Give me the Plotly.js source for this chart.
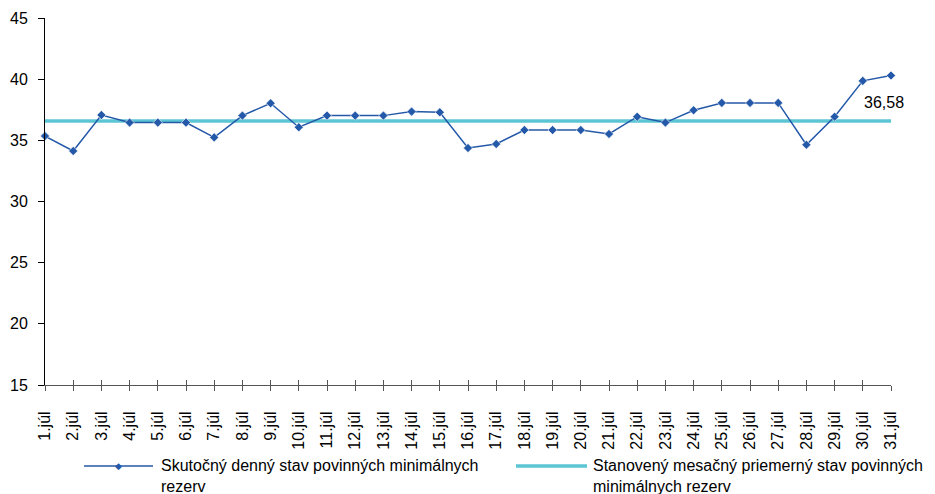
<!DOCTYPE html>
<html>
<head>
<meta charset="utf-8">
<script src="https://cdn.plot.ly/plotly-3.0.1.min.js"></script>
<style>html,body{margin:0;padding:0;background:#fff;}#chart{width:935px;height:494px;}</style>
</head>
<body>
<div id="chart"></div>
<script>
const days = ["1.júl","2.júl","3.júl","4.júl","5.júl","6.júl","7.júl","8.júl","9.júl","10.júl",
  "11.júl","12.júl","13.júl","14.júl","15.júl","16.júl","17.júl","18.júl","19.júl","20.júl",
  "21.júl","22.júl","23.júl","24.júl","25.júl","26.júl","27.júl","28.júl","29.júl","30.júl","31.júl"];
const actual = [35.35,34.13,37.07,36.45,36.45,36.45,35.24,37.02,38.03,36.07,
  37.02,37.02,37.02,37.35,37.29,34.37,34.70,35.84,35.84,35.84,
  35.52,36.93,36.45,37.46,38.06,38.06,38.06,34.64,36.93,39.86,40.30];
const required = 36.58;
const requiredLabel = "36,58";
const seriesNames = ["Skutočný denný stav povinných minimálnych<br>rezerv",
  "Stanovený mesačný priemerný stav povinných<br>minimálnych rezerv"];

const colActual = '#2458A8';
const colReq = '#5BC5D3';
const reqSeries = days.map(() => required);

const traces = [
  {x: days, y: reqSeries, type: 'scatter', mode: 'lines', name: seriesNames[1],
   line: {color: colReq, width: 3.5}, cliponaxis: false, hoverinfo: 'skip', showlegend: false},
  {x: days, y: actual, type: 'scatter', mode: 'lines+markers', name: seriesNames[0],
   line: {color: colActual, width: 1.5},
   marker: {symbol: 'diamond', size: 7, color: colActual, line: {color: '#ffffff', width: 0.6}},
   cliponaxis: false, showlegend: false},
  {x: days, y: actual, xaxis: 'x2', yaxis: 'y', type: 'scatter', mode: 'none',
   showlegend: false, hoverinfo: 'skip'}
];

// plot area in pixels: x 45..891, y 18..385
const L = 45, R = 891, T = 18, B = 385;
const px = v => (v - L) / (R - L);
const py = v => (B - v) / (B - T);

const legendY = 466;
const shapes = [
  {type: 'line', xref: 'paper', yref: 'paper', x0: px(84), x1: px(153), y0: py(legendY), y1: py(legendY),
   line: {color: colActual, width: 1.5}},
  {type: 'line', xref: 'paper', yref: 'paper', x0: px(516), x1: px(587), y0: py(legendY), y1: py(legendY),
   line: {color: colReq, width: 3.5}}
];

const layout = {
  width: 935, height: 494,
  margin: {l: L, r: 935 - R, t: T, b: 494 - B},
  paper_bgcolor: '#ffffff', plot_bgcolor: '#ffffff',
  font: {family: 'Liberation Sans, Arial, sans-serif', size: 16, color: '#000'},
  showlegend: false,
  xaxis: {type: 'category', range: [0, 30], showgrid: false, zeroline: false,
    showline: true, linecolor: '#555', linewidth: 1,
    ticks: 'outside', ticklen: 5, tickcolor: '#555', tickwidth: 1,
    tickangle: -90, tickfont: {size: 16}, ticklabelstandoff: 14, fixedrange: true},
  xaxis2: {type: 'category', overlaying: 'x', matches: 'x', anchor: 'y', side: 'bottom',
    range: [0, 30], showgrid: false, zeroline: false, showline: false,
    ticks: 'inside', ticklen: 5, tickcolor: '#555', tickwidth: 1, showticklabels: false},
  yaxis: {range: [15, 45], dtick: 5, tick0: 15, showgrid: false, zeroline: false,
    showline: true, linecolor: '#000', linewidth: 1,
    ticks: 'outside', ticklen: 6, tickcolor: '#000', tickfont: {size: 16},
    ticklabelstandoff: 7, fixedrange: true},
  shapes: shapes,
  annotations: [
    {x: days[days.length - 1], y: required, xref: 'x', yref: 'y',
     text: requiredLabel, showarrow: false, xanchor: 'right', yanchor: 'bottom',
     xshift: 15, yshift: 8, font: {size: 16, color: '#000'}},
    {x: px(118.5), y: py(legendY), xref: 'paper', yref: 'paper', text: '◆', showarrow: false,
     xanchor: 'center', yanchor: 'middle', font: {size: 9, color: colActual}},
    {x: px(159), y: py(legendY - 11), xref: 'paper', yref: 'paper', text: seriesNames[0],
     showarrow: false, xanchor: 'left', yanchor: 'top', align: 'left', font: {size: 16}},
    {x: px(591), y: py(legendY - 11), xref: 'paper', yref: 'paper', text: seriesNames[1],
     showarrow: false, xanchor: 'left', yanchor: 'top', align: 'left', font: {size: 16}}
  ]
};

Plotly.newPlot('chart', traces, layout, {staticPlot: true, displayModeBar: false});
</script>
</body>
</html>
